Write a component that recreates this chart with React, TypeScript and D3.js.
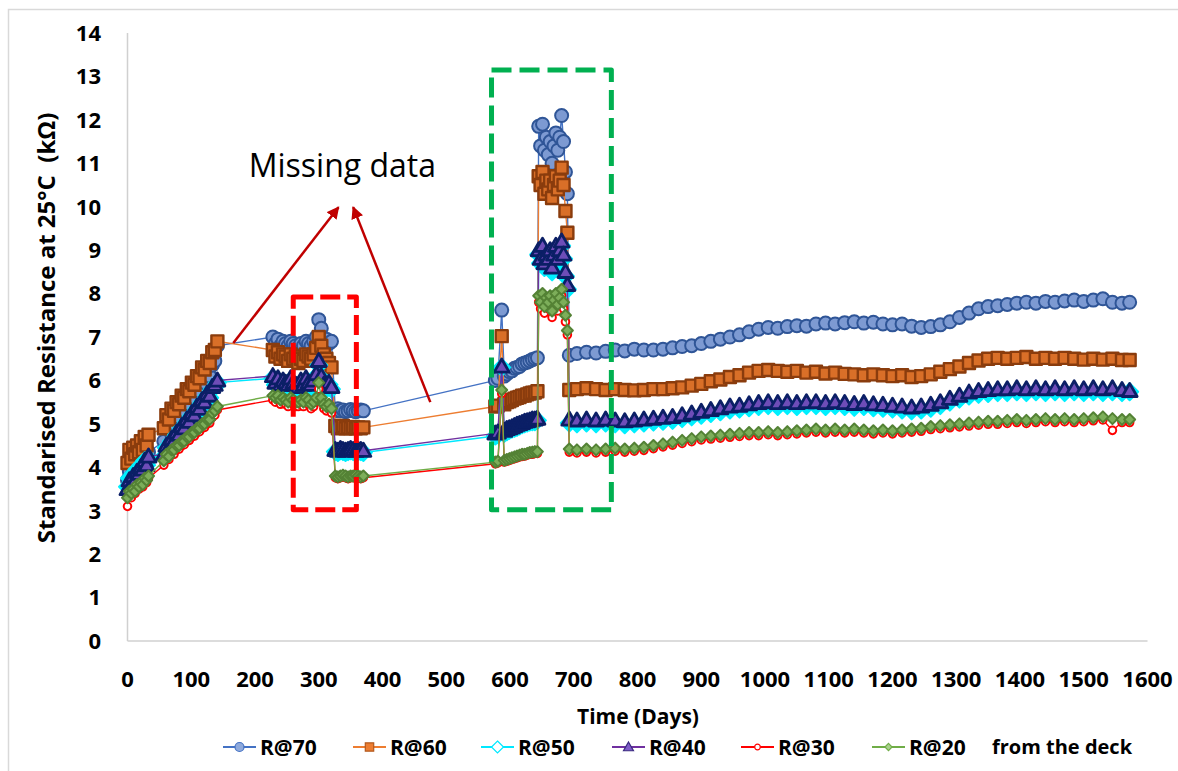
import * as d3 from "d3";

// sampling days, one block per measurement campaign
const daysA = [0, 3, 6, 9, 12, 15, 18, 21, 24, 27, 30, 33];
const daysB = [57, 61, 65, 69, 73, 77, 81, 85, 89, 93, 97, 101, 105, 109, 113, 117, 121, 125, 129, 133, 137, 141];
const daysC = [228, 232, 236, 240, 244, 248, 252, 256, 260, 264, 268, 272, 276, 280, 284, 288, 292, 296, 300, 304, 308, 312, 316, 320];
const daysD = [326, 330, 334, 338, 342, 346, 350, 354, 358, 362, 366, 370];
const daysE = [577, 581, 587, 591, 595, 599, 603, 607, 611, 615, 619, 623, 627, 631, 635, 639, 643];
const daysF = [645, 648, 651, 654, 657, 660, 663, 666, 669, 672, 675, 678, 681, 684, 687, 690];
const daysG = [693, 705, 720, 735, 750, 765, 780, 795, 810, 825, 840, 855, 870, 885, 900, 915, 930, 945, 960, 975,
  990, 1005, 1020, 1035, 1050, 1065, 1080, 1095, 1110, 1125, 1140, 1155, 1170, 1185, 1200, 1215, 1230, 1245, 1260, 1275,
  1290, 1305, 1320, 1335, 1350, 1365, 1380, 1395, 1410, 1425, 1440, 1455, 1470, 1485, 1500, 1515, 1530, 1545, 1560, 1572];
const days = [...daysA, ...daysB, ...daysC, ...daysD, ...daysE, ...daysF, ...daysG];

const r70 = [
  3.7, 3.9, 3.8, 4.0, 3.9, 4.1, 4.0, 4.2, 4.1, 4.3, 4.2, 4.35,
  4.6, 4.9, 4.85, 5.05, 5.0, 5.2, 5.15, 5.35, 5.3, 5.5, 5.45, 5.65, 5.6, 5.8, 5.75, 6.0, 5.95, 6.15, 6.1, 6.35, 6.45, 6.8,
  7.0, 6.85, 6.95, 6.8, 6.9, 6.85, 6.8, 6.9, 6.85, 6.8, 6.75, 6.85, 6.8, 6.9, 6.85, 6.8, 6.9, 7.0, 7.4, 7.2, 6.9, 6.95, 6.85, 6.9,
  5.3, 5.35, 5.3, 5.32, 5.28, 5.3, 5.33, 5.3, 5.28, 5.3, 5.32, 5.3,
  6.0, 6.05, 7.62, 6.1, 6.15, 6.2, 6.22, 6.28, 6.3, 6.32, 6.38, 6.4, 6.42, 6.45, 6.48, 6.5, 6.52,
  11.85, 11.4, 11.9, 11.3, 11.6, 11.2, 11.5, 11.0, 11.4, 11.7, 11.3, 11.6, 12.1, 11.5, 10.8, 10.3,
  6.58, 6.62, 6.65, 6.63, 6.67, 6.7, 6.68, 6.72, 6.7, 6.7, 6.72, 6.75, 6.78, 6.8, 6.85, 6.9, 6.95, 7.0, 7.05, 7.12,
  7.18, 7.22, 7.2, 7.24, 7.26, 7.25, 7.3, 7.32, 7.3, 7.33, 7.35, 7.32, 7.34, 7.3, 7.28, 7.3, 7.25, 7.22, 7.24, 7.28,
  7.35, 7.45, 7.55, 7.65, 7.7, 7.72, 7.75, 7.78, 7.8, 7.78, 7.82, 7.8, 7.83, 7.85, 7.82, 7.85, 7.88, 7.8, 7.78, 7.8,
];
const r60 = [
  4.1, 4.4, 4.2, 4.45, 4.3, 4.5, 4.35, 4.6, 4.4, 4.7, 4.5, 4.75,
  4.9, 5.2, 5.1, 5.35, 5.3, 5.5, 5.45, 5.65, 5.6, 5.8, 5.75, 5.95, 5.9, 6.1, 6.05, 6.3, 6.25, 6.45, 6.4, 6.65, 6.7, 6.9,
  6.7, 6.55, 6.65, 6.5, 6.6, 6.55, 6.45, 6.6, 6.5, 6.55, 6.4, 6.5, 6.45, 6.6, 6.55, 6.5, 6.6, 6.75, 7.0, 6.8, 6.6, 6.5, 6.4, 6.3,
  4.95, 4.9, 4.92, 4.95, 4.9, 4.92, 4.9, 4.93, 4.9, 4.92, 4.9, 4.92,
  5.4, 5.42, 7.02, 5.45, 5.5, 5.52, 5.55, 5.58, 5.6, 5.62, 5.65, 5.65, 5.68, 5.7, 5.72, 5.72, 5.75,
  10.7, 10.5, 10.8, 10.3, 10.6, 10.4, 10.6, 10.2, 10.5, 10.7, 10.4, 10.6, 10.9, 10.5, 9.9, 9.4,
  5.78, 5.8, 5.82, 5.8, 5.78, 5.8, 5.78, 5.77, 5.78, 5.8, 5.8, 5.82, 5.84, 5.88, 5.92, 5.98, 6.02, 6.08, 6.12, 6.18,
  6.22, 6.24, 6.22, 6.2, 6.22, 6.18, 6.2, 6.16, 6.18, 6.15, 6.14, 6.12, 6.14, 6.12, 6.1, 6.12, 6.08, 6.1, 6.14, 6.2,
  6.26, 6.32, 6.4, 6.46, 6.5, 6.52, 6.5, 6.52, 6.54, 6.5, 6.52, 6.5, 6.52, 6.5, 6.48, 6.5, 6.48, 6.5, 6.47, 6.47,
];
const r50 = [
  3.55, 3.75, 3.65, 3.85, 3.75, 3.95, 3.85, 4.05, 3.95, 4.15, 4.05, 4.2,
  4.25, 4.45, 4.4, 4.6, 4.55, 4.75, 4.7, 4.9, 4.85, 5.05, 5.0, 5.2, 5.15, 5.35, 5.3, 5.5, 5.45, 5.65, 5.6, 5.8, 5.85, 5.95,
  6.05, 5.9, 6.0, 5.85, 5.95, 5.9, 5.85, 6.0, 5.9, 5.85, 5.8, 5.95, 5.85, 6.0, 5.9, 5.85, 5.95, 6.1, 6.35, 6.05, 5.85, 5.8, 5.9, 5.8,
  4.36, 4.34, 4.38, 4.36, 4.34, 4.36, 4.38, 4.36, 4.34, 4.36, 4.36, 4.34,
  4.72, 4.75, 6.3, 4.78, 4.82, 4.85, 4.88, 4.9, 4.92, 4.95, 4.98, 5.0, 5.02, 5.04, 5.05, 5.05, 5.08,
  8.9, 8.7, 9.0, 8.6, 8.8, 8.7, 8.9, 8.5, 8.8, 9.0, 8.7, 8.9, 9.1, 8.8, 8.4, 8.1,
  5.02, 5.0, 5.02, 5.0, 5.02, 5.0, 4.98, 5.0, 5.02, 5.04, 5.06, 5.08, 5.12, 5.16, 5.2, 5.24, 5.28, 5.32, 5.34, 5.37,
  5.4, 5.42, 5.4, 5.42, 5.4, 5.42, 5.42, 5.4, 5.42, 5.4, 5.38, 5.4, 5.37, 5.36, 5.34, 5.32, 5.3, 5.32, 5.36, 5.42,
  5.5, 5.57, 5.64, 5.68, 5.7, 5.72, 5.72, 5.74, 5.72, 5.74, 5.72, 5.74, 5.72, 5.74, 5.72, 5.74, 5.72, 5.74, 5.72, 5.74,
];
const r40 = [
  3.5, 3.7, 3.6, 3.8, 3.7, 3.9, 3.85, 4.0, 3.95, 4.15, 4.05, 4.25,
  4.3, 4.5, 4.45, 4.65, 4.6, 4.8, 4.75, 4.95, 4.9, 5.1, 5.05, 5.25, 5.2, 5.4, 5.35, 5.55, 5.5, 5.7, 5.65, 5.85, 5.9, 6.0,
  6.1, 5.95, 6.05, 5.9, 6.0, 5.95, 5.9, 6.05, 5.95, 5.9, 5.85, 6.0, 5.9, 6.05, 5.95, 5.9, 6.0, 6.15, 6.45, 6.1, 5.9, 5.85, 5.95, 5.85,
  4.4, 4.38, 4.42, 4.4, 4.38, 4.4, 4.42, 4.4, 4.38, 4.4, 4.4, 4.38,
  4.78, 4.8, 6.32, 4.84, 4.88, 4.9, 4.92, 4.95, 4.98, 5.0, 5.02, 5.05, 5.06, 5.08, 5.1, 5.1, 5.12,
  9.0, 8.8, 9.1, 8.7, 8.9, 8.8, 9.0, 8.6, 8.9, 9.1, 8.8, 9.0, 9.2, 8.9, 8.5, 8.2,
  5.1, 5.08, 5.1, 5.08, 5.1, 5.08, 5.06, 5.08, 5.1, 5.12, 5.14, 5.16, 5.2, 5.24, 5.28, 5.32, 5.36, 5.4, 5.42, 5.45,
  5.48, 5.5, 5.48, 5.5, 5.48, 5.5, 5.5, 5.48, 5.5, 5.48, 5.46, 5.48, 5.45, 5.44, 5.42, 5.4, 5.38, 5.4, 5.44, 5.5,
  5.58, 5.65, 5.72, 5.76, 5.78, 5.8, 5.8, 5.82, 5.8, 5.82, 5.8, 5.82, 5.8, 5.82, 5.8, 5.82, 5.8, 5.82, 5.78, 5.76,
];
const r30 = [
  3.1, 3.35, 3.3, 3.45, 3.4, 3.5, 3.5, 3.6, 3.55, 3.7, 3.65, 3.75,
  4.05, 4.2, 4.18, 4.3, 4.3, 4.4, 4.42, 4.5, 4.52, 4.6, 4.62, 4.7, 4.72, 4.8, 4.82, 4.9, 4.92, 5.0, 5.02, 5.15, 5.2, 5.32,
  5.55, 5.5, 5.55, 5.45, 5.5, 5.45, 5.4, 5.5, 5.45, 5.4, 5.4, 5.45, 5.4, 5.5, 5.45, 5.35, 5.4, 5.5, 5.8, 5.5, 5.35, 5.3, 5.35, 5.25,
  3.76, 3.74, 3.76, 3.78, 3.76, 3.74, 3.76, 3.76, 3.78, 3.76, 3.74, 3.76,
  4.08, 4.1, 5.7, 4.12, 4.14, 4.16, 4.18, 4.2, 4.22, 4.24, 4.25, 4.26, 4.28, 4.3, 4.3, 4.32, 4.32,
  7.8, 7.65, 7.85, 7.55, 7.75, 7.65, 7.8, 7.45, 7.7, 7.85, 7.6, 7.75, 7.95, 7.65, 7.35, 7.05,
  4.35, 4.33, 4.35, 4.33, 4.35, 4.37, 4.35, 4.37, 4.39, 4.43, 4.47, 4.51, 4.55, 4.59, 4.63, 4.65, 4.67, 4.69, 4.71, 4.73,
  4.73, 4.75, 4.73, 4.75, 4.77, 4.79, 4.81, 4.79, 4.81, 4.79, 4.81, 4.79, 4.77, 4.79, 4.77, 4.79, 4.81, 4.83, 4.87, 4.89,
  4.91, 4.93, 4.95, 4.97, 4.99, 4.99, 5.01, 5.03, 5.01, 5.03, 5.05, 5.03, 5.05, 5.03, 5.05, 5.07, 5.09, 4.85, 5.03, 5.03,
];
const r20 = [
  3.3, 3.45, 3.4, 3.5, 3.45, 3.6, 3.55, 3.65, 3.6, 3.75, 3.7, 3.8,
  4.15, 4.3, 4.25, 4.4, 4.4, 4.5, 4.5, 4.6, 4.6, 4.7, 4.7, 4.8, 4.8, 4.9, 4.9, 5.0, 5.0, 5.1, 5.1, 5.25, 5.3, 5.4,
  5.65, 5.6, 5.65, 5.55, 5.6, 5.55, 5.5, 5.6, 5.55, 5.5, 5.5, 5.55, 5.5, 5.6, 5.55, 5.45, 5.5, 5.6, 5.95, 5.6, 5.45, 5.4, 5.45, 5.35,
  3.8, 3.78, 3.8, 3.82, 3.8, 3.78, 3.8, 3.8, 3.82, 3.8, 3.78, 3.8,
  4.12, 4.14, 5.78, 4.16, 4.18, 4.2, 4.22, 4.24, 4.26, 4.28, 4.3, 4.3, 4.32, 4.34, 4.35, 4.36, 4.36,
  7.95, 7.8, 8.0, 7.7, 7.9, 7.8, 7.95, 7.6, 7.85, 8.0, 7.75, 7.9, 8.1, 7.8, 7.5, 7.15,
  4.42, 4.4, 4.42, 4.4, 4.42, 4.44, 4.42, 4.44, 4.46, 4.5, 4.54, 4.58, 4.62, 4.66, 4.7, 4.72, 4.74, 4.76, 4.78, 4.8,
  4.8, 4.82, 4.8, 4.82, 4.84, 4.86, 4.88, 4.86, 4.88, 4.86, 4.88, 4.86, 4.84, 4.86, 4.84, 4.86, 4.88, 4.9, 4.94, 4.96,
  4.98, 5.0, 5.02, 5.04, 5.06, 5.06, 5.08, 5.1, 5.08, 5.1, 5.12, 5.1, 5.12, 5.1, 5.12, 5.14, 5.16, 5.12, 5.1, 5.1,
];

const seriesNames = ["R@70", "R@60", "R@50", "R@40", "R@30", "R@20"];
const legendNote = "from the deck";
const xTicks = [0, 100, 200, 300, 400, 500, 600, 700, 800, 900, 1000, 1100, 1200, 1300, 1400, 1500, 1600];
const yTicks = [0, 1, 2, 3, 4, 5, 6, 7, 8, 9, 10, 11, 12, 13, 14];

// annotations in data units: [day0, value0, day1, value1]
const arrows = [
  [166, 6.86, 331, 9.99],
  [475, 5.5, 354, 9.99],
];
const redBox = [260, 7.92, 359, 3.02];
const greenBox = [571, 13.15, 759, 3.02];
const noteText = "Missing data";
const notePos = [337, 10.96];

const FONT = "'Open Sans', 'Noto Sans', sans-serif";

// plot markers are drawn heavier than the legend ones, the real data is daily and overlaps into bands
const styles = [
  { line: "#4472C4", shape: "circle", r: 6.5, fill: "#7D9AD2", stroke: "#2F5597", sw: 2, lr: 4.5, lfill: "#8FAADC", lstroke: "#4472C4" },
  { line: "#ED7D31", shape: "square", r: 6, fill: "#D96F28", stroke: "#8A3C0D", sw: 2.4, lr: 4.2, lfill: "#ED7D31", lstroke: "#B35A1F" },
  { line: "#00E8FF", shape: "diamond", r: 8.5, fill: "#00F0FF", stroke: "#00F0FF", sw: 2, lr: 6, lfill: "#FFFFFF", lstroke: "#00E8FF" },
  { line: "#7030A0", shape: "triangle", r: 7.5, fill: "#6E4DB8", stroke: "#0B1F66", sw: 2.8, lr: 5, lfill: "#7F5CC8", lstroke: "#3A2A80" },
  { line: "#FF0000", shape: "circle", r: 3.8, fill: "#FFFFFF", stroke: "#FF0000", sw: 2, lr: 2.8, lfill: "#FFFFFF", lstroke: "#FF0000" },
  { line: "#70AD47", shape: "diamond", r: 5.5, fill: "#7DAE5A", stroke: "#548235", sw: 2, lr: 3.6, lfill: "#A9D18E", lstroke: "#70AD47" },
];

function markerPath(shape: string, r: number) {
  if (shape === "circle") return d3.symbol(d3.symbolCircle, Math.PI * r * r)() as string;
  if (shape === "square") return `M${-r},${-r}h${2 * r}v${2 * r}h${-2 * r}Z`;
  if (shape === "diamond") return `M0,${-r}L${r},0L0,${r}L${-r},0Z`;
  return `M0,${-r}L${r},${r * 0.75}L${-r},${r * 0.75}Z`;
}

export default function App() {
  const W = 1178;
  const H = 771;
  const x = d3.scaleLinear().domain([0, 1600]).range([127.5, 1147.5]);
  const y = d3.scaleLinear().domain([0, 14]).range([641, 33]);
  const all = [r70, r60, r50, r40, r30, r20];

  const line = d3
    .line<number>()
    .x((_, i) => x(days[i]))
    .y((d) => y(d));

  const legendX = [223, 353, 481, 612, 741, 872];
  const legendY = 747;

  return (
    <div style={{ position: "absolute", left: 0, top: 0, width: W, height: H, background: "#fff" }}>
      <svg width={W} height={H} style={{ display: "block", fontFamily: FONT }}>
        <defs>
          <marker id="ah" viewBox="0 0 10 10" refX="9" refY="5" markerWidth="5" markerHeight="5" orient="auto">
            <path d="M0,0L10,5L0,10Z" fill="#C00000" />
          </marker>
        </defs>
        <rect x={8.5} y={9.5} width={W + 10} height={H + 10} fill="none" stroke="#d9d9d9" strokeWidth={1.5} />

        {/* axes */}
        <line x1={x(0)} x2={x(0)} y1={y(14)} y2={y(0)} stroke="#d0d0d0" strokeWidth={1.5} />
        <line x1={x(0)} x2={x(1600)} y1={y(0)} y2={y(0)} stroke="#d0d0d0" strokeWidth={1.5} />
        {yTicks.map((t) => (
          <text key={t} x={101} y={y(t)} dy="0.36em" textAnchor="end" fontSize={22} fontWeight={700}>
            {t}
          </text>
        ))}
        {xTicks.map((t) => (
          <text key={t} x={x(t)} y={679} dy="0.36em" textAnchor="middle" fontSize={22} fontWeight={700}>
            {t}
          </text>
        ))}
        <text x={638} y={716} dy="0.36em" textAnchor="middle" fontSize={21} fontWeight={700}>
          Time (Days)
        </text>
        <text
          transform="translate(46,328) rotate(-90)"
          textAnchor="middle"
          dy="0.36em"
          fontSize={24}
          fontWeight={700}
          style={{ whiteSpace: "pre" }}
        >
          {"Standarised Resistance at 25°C  (kΩ)"}
        </text>

        {/* series */}
        {all.map((vals, si) => {
          const st = styles[si];
          const mp = markerPath(st.shape, st.r);
          return (
            <g key={si}>
              <path d={line(vals) as string} fill="none" stroke={st.line} strokeWidth={1.4} />
              {vals.map((v, i) => (
                <path
                  key={i}
                  d={mp}
                  transform={`translate(${x(days[i])},${y(v)})`}
                  fill={st.fill}
                  stroke={st.stroke}
                  strokeWidth={st.sw}
                  strokeLinejoin="round"
                />
              ))}
            </g>
          );
        })}

        {/* annotations */}
        <rect
          x={x(redBox[0])}
          y={y(redBox[1])}
          width={x(redBox[2]) - x(redBox[0])}
          height={y(redBox[3]) - y(redBox[1])}
          fill="none"
          stroke="#FF0000"
          strokeWidth={5}
          strokeDasharray="20 7"
          strokeLinejoin="round"
        />
        <rect
          x={x(greenBox[0])}
          y={y(greenBox[1])}
          width={x(greenBox[2]) - x(greenBox[0])}
          height={y(greenBox[3]) - y(greenBox[1])}
          fill="none"
          stroke="#00B050"
          strokeWidth={5}
          strokeDasharray="20 8"
          strokeLinejoin="round"
        />
        {arrows.map((a, i) => (
          <line
            key={i}
            x1={x(a[0])}
            y1={y(a[1])}
            x2={x(a[2])}
            y2={y(a[3])}
            stroke="#C00000"
            strokeWidth={2.5}
            markerEnd="url(#ah)"
          />
        ))}
        <text x={x(notePos[0])} y={y(notePos[1])} dy="0.36em" textAnchor="middle" fontSize={32}>
          {noteText}
        </text>

        {/* legend */}
        {seriesNames.map((n, i) => {
          const st = styles[i];
          const lx = legendX[i];
          return (
            <g key={n}>
              <line x1={lx} x2={lx + 33} y1={legendY} y2={legendY} stroke={st.line} strokeWidth={2} />
              <path
                d={markerPath(st.shape, st.lr)}
                transform={`translate(${lx + 16.5},${legendY})`}
                fill={st.lfill}
                stroke={st.lstroke}
                strokeWidth={1.2}
              />
              <text x={lx + 37} y={legendY} dy="0.36em" fontSize={21} fontWeight={700}>
                {n}
              </text>
            </g>
          );
        })}
        <text x={992} y={legendY} dy="0.36em" fontSize={20} fontWeight={700}>
          {legendNote}
        </text>
      </svg>
    </div>
  );
}
